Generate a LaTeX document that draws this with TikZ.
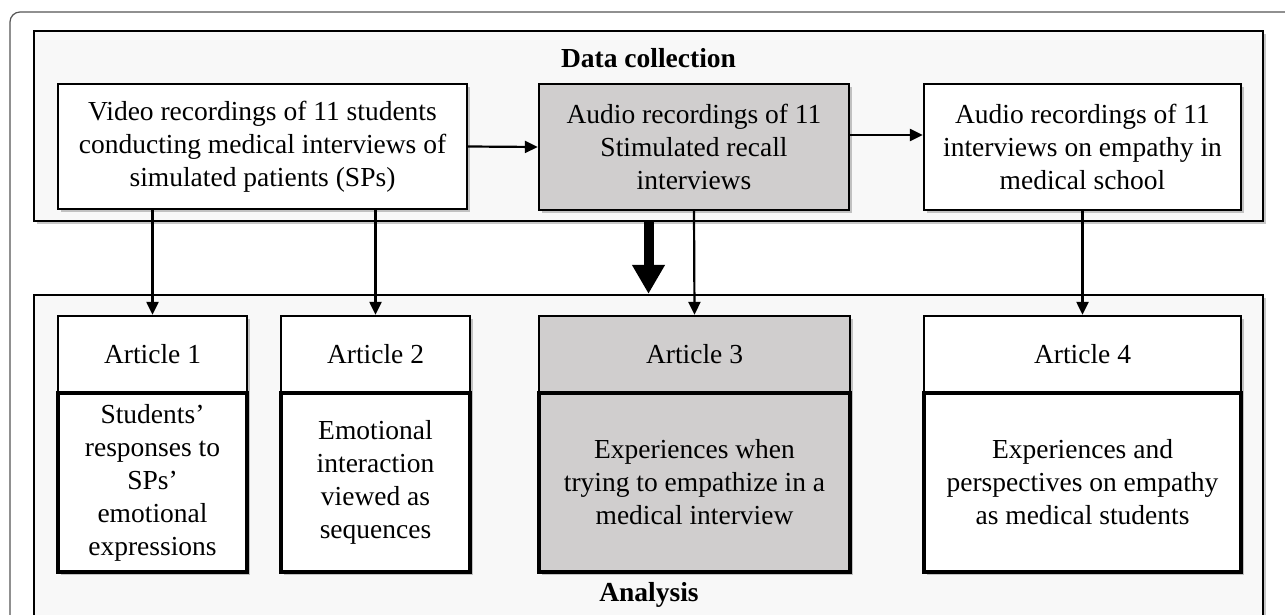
\documentclass[tikz,border=0pt]{standalone}
\usepackage{fontspec}
\setmainfont{Liberation Serif}
\usetikzlibrary{arrows.meta,shadows,calc}
\definecolor{grayfill}{HTML}{D0CECE}
\definecolor{panelfill}{HTML}{F8F8F8}
\definecolor{framegray}{HTML}{555555}
\begin{document}
\begin{tikzpicture}[x=1pt,y=-1pt,
  font=\fontsize{27.5}{33}\selectfont,
  shad/.style={drop shadow={shadow xshift=3pt,shadow yshift=-3pt,opacity=0.22,fill=black}},
  panel/.style={draw,line width=2.3pt,fill=panelfill,inner sep=0pt,shad},
  box/.style={draw,line width=2.3pt,fill=white,align=center,inner sep=0pt,shad},
  head/.style={box,minimum height=77pt},
  body/.style={box,line width=3.4pt,minimum height=179pt},
  ttl/.style={font=\fontsize{27.5}{33}\selectfont\bfseries,inner sep=0pt},
  arr/.style={line width=2.2pt,-{Triangle[width=12pt,length=13pt]}},
  bigarr/.style={line width=10pt,-{Triangle[width=31pt,length=29pt]}}
]
\clip (0,0) rectangle (1285,615);
\draw[framegray,line width=1.2pt,rounded corners=10pt] (10,12) rectangle (1320,660);

% Data collection panel
\node[panel,minimum width=1229pt,minimum height=190pt] (DC) at (648.5,126) {};
\node[ttl] (DCt) at (648.5,58) {Data collection};
\node[box,minimum width=409pt,minimum height=125pt] (V) at (262.5,146.5)
  {Video recordings of 11 students\\conducting medical interviews of\\simulated patients (SPs)};
\node[box,fill=grayfill,minimum width=310pt,minimum height=126pt] (A) at (694,147)
  {Audio recordings of 11\\Stimulated recall\\interviews};
\node[box,minimum width=317pt,minimum height=126pt] (C) at (1082.5,147)
  {Audio recordings of 11\\interviews on empathy in\\medical school};

% Analysis panel
\node[panel,minimum width=1229pt,minimum height=345pt] (AN) at (648.5,467.5) {};
\node[ttl] (ANt) at (649,595) {Analysis};

\node[head,minimum width=189pt] (H1) at (152.5,354.5) {Article 1};
\node[body,minimum width=189pt] (B1) at (152.5,482.5)
  {Students'\\responses to\\SPs'\\emotional\\expressions};
\node[head,minimum width=189pt] (H2) at (375.5,354.5) {Article 2};
\node[body,minimum width=189pt] (B2) at (375.5,482.5)
  {Emotional\\interaction\\viewed as\\sequences};
\node[head,fill=grayfill,minimum width=311pt] (H3) at (694.5,354.5) {Article 3};
\node[body,fill=grayfill,minimum width=311pt] (B3) at (694.5,482.5)
  {Experiences when\\trying to empathize in a\\medical interview};
\node[head,minimum width=317pt] (H4) at (1082.5,354.5) {Article 4};
\node[body,minimum width=317pt] (B4) at (1082.5,482.5)
  {Experiences and\\perspectives on empathy\\as medical students};

% connectors
\draw[arr] (V.east) -- (A.west);
\draw[arr] ([yshift=12pt]A.east) -- ([yshift=12pt]C.west);
\draw[arr] (V.south -| H1.north) -- (H1.north);
\draw[arr] (V.south -| H2.north) -- (H2.north);
\draw[arr] (A.south) -- (H3.north);
\draw[arr] (C.south) -- (H4.north);
\draw[bigarr] (DC.south) -- (AN.north);
\end{tikzpicture}
\end{document}
